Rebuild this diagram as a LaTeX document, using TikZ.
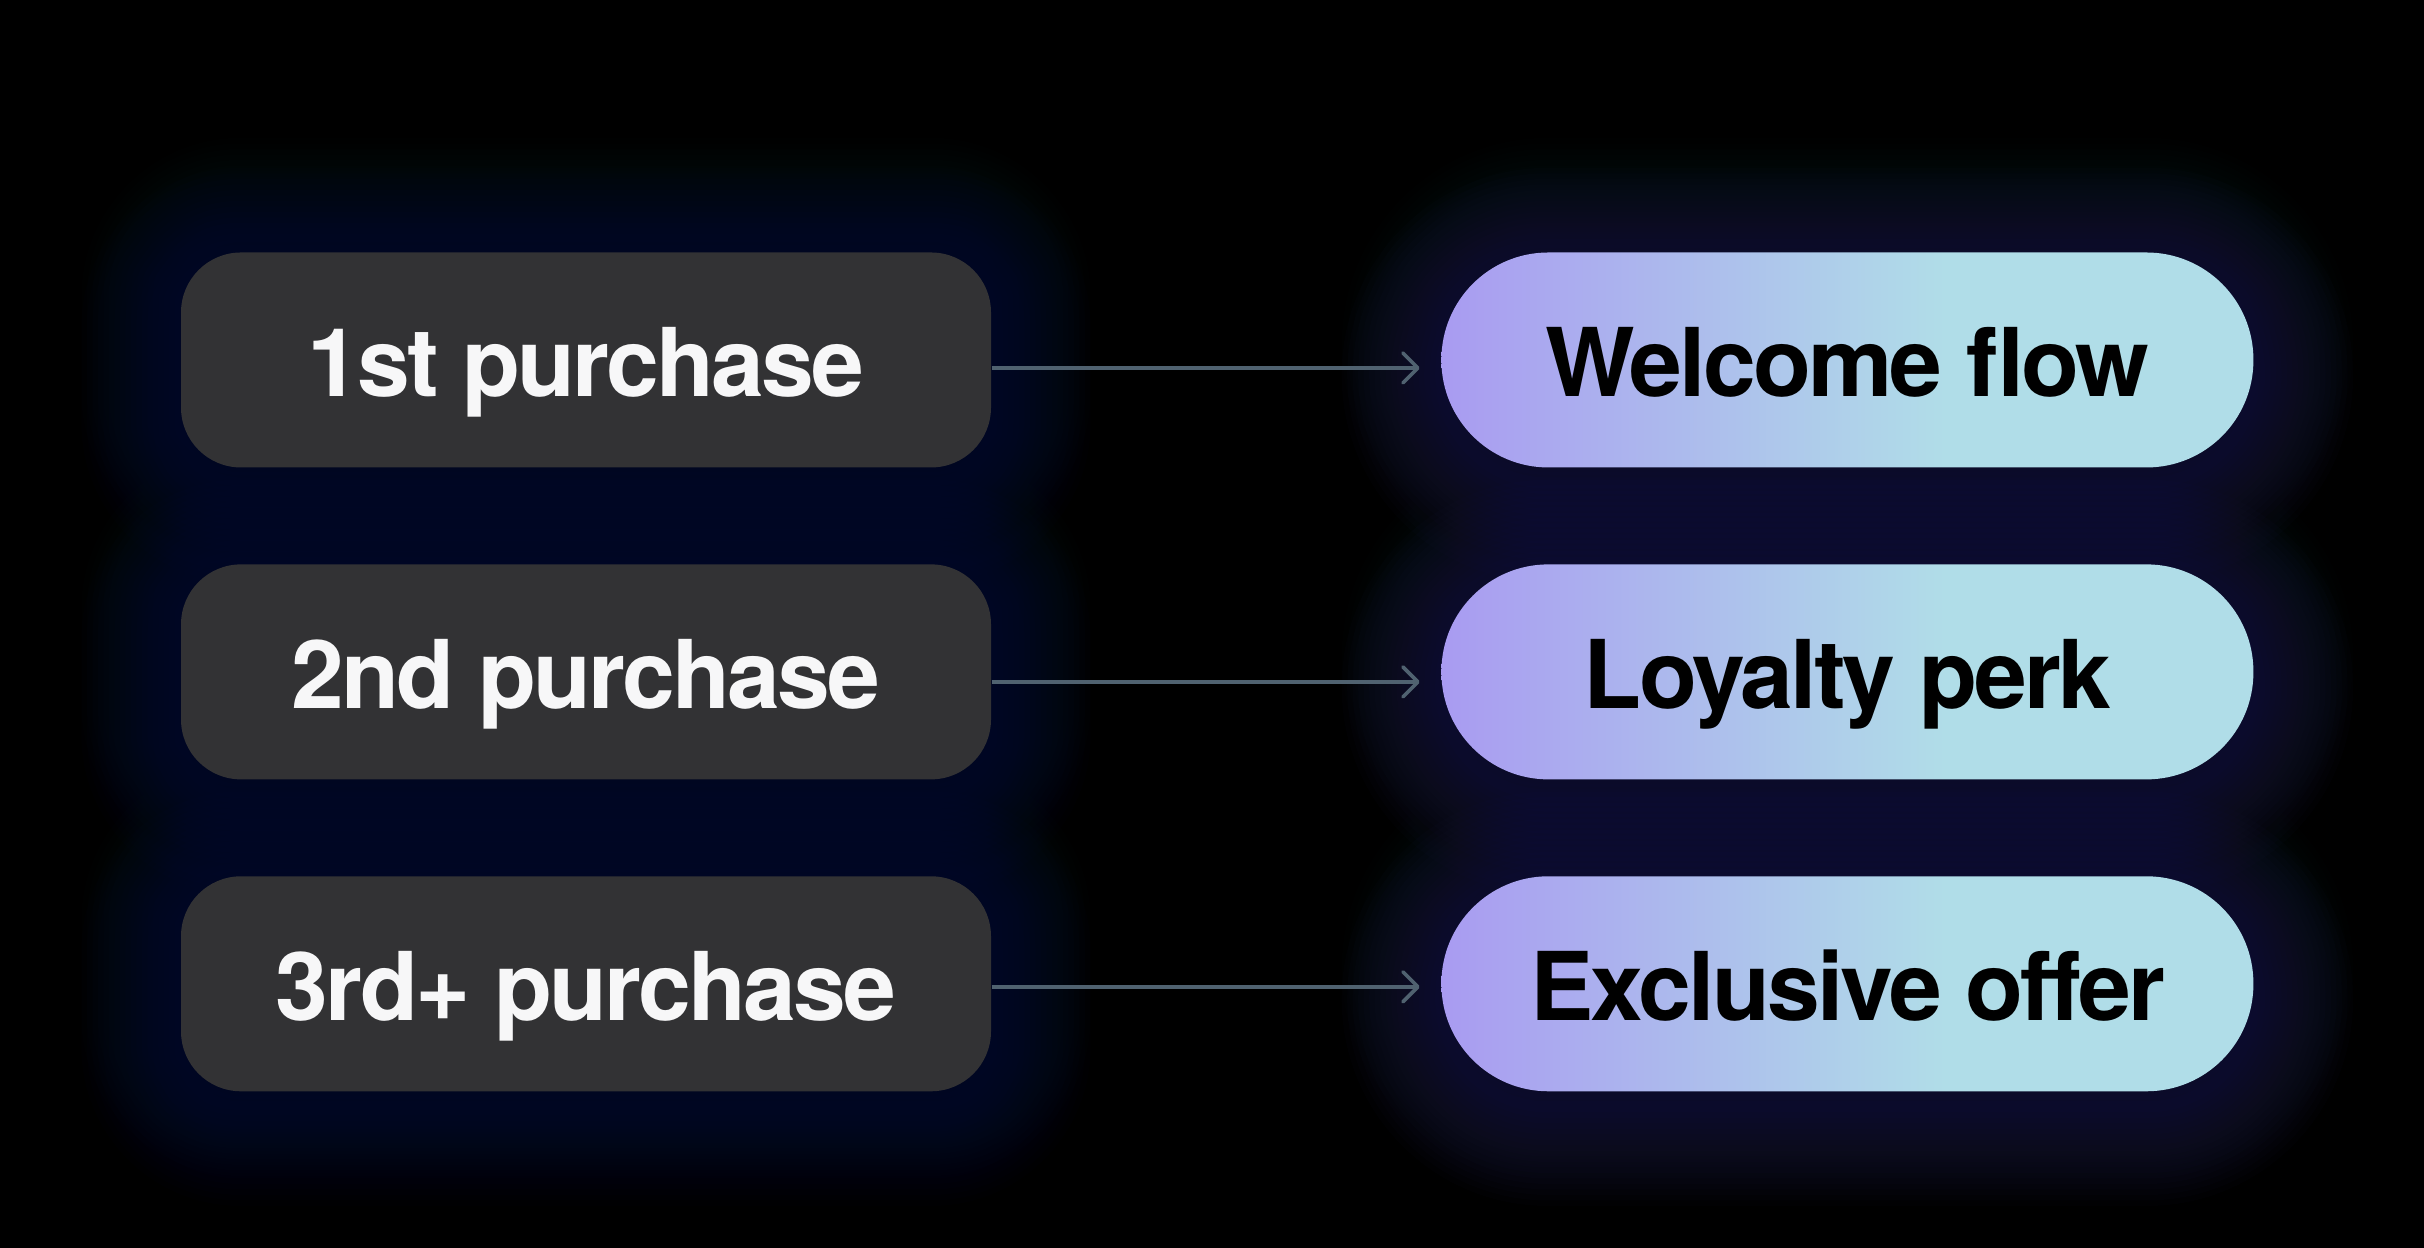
\documentclass[tikz,border=0pt]{standalone}
\usepackage{fontspec}
\setmainfont{TeX Gyre Heros}
\usepackage{tikz}
\usetikzlibrary{arrows.meta,positioning,backgrounds}
\definecolor{ink}{HTML}{000000}
\definecolor{slab}{HTML}{323234}
\definecolor{chalk}{HTML}{F7F7F8}
\definecolor{steel}{HTML}{506270}
\definecolor{lilac}{HTML}{A99BF1}
\definecolor{frost}{HTML}{B0DDE8}
\definecolor{haze}{HTML}{2A2A72}
\definecolor{mist}{HTML}{0F3036}
\pgfdeclarehorizontalshading{pillfade}{100bp}{color(0bp)=(lilac); color(25bp)=(lilac); color(56bp)=(frost); color(100bp)=(frost)}
\begin{document}
\begin{tikzpicture}[node distance=0.955cm and 4.49cm,every node/.style={font=\fontsize{27}{32}\bfseries\addfontfeature{LetterSpace=-3},align=center,text height=0.74cm,text depth=0cm},stage/.style={fill=slab,text=chalk,rounded corners=0.6cm,minimum width=8.1cm,minimum height=2.15cm},pill/.style={shading=pillfade,text=ink,rounded corners=1.07cm,minimum width=8.12cm,minimum height=2.15cm},link/.style={-{Straight Barb[length=1.5mm,width=3mm,round]},line width=0.036cm,steel,shorten >=0.21cm}]
\node[stage] (first) at (5.86,8.88) {1st purchase};
\node[stage,below=of first] (second) {2nd purchase};
\node[stage,below=of second] (third) {3rd+ purchase};
\node[pill,right=of first] (welcome) {Welcome flow};
\node[pill,right=of second] (loyalty) {Loyalty perk};
\node[pill,right=of third] (exclusive) {Exclusive offer};
% dark page and soft glow behind the boxes
\begin{scope}[on background layer]
\fill[ink] (0,0) rectangle (24.24,12.48);
\foreach \b in {first,second,third}{
  \foreach \n in {1,...,18}{
    \draw[mist,opacity=0.024,line width=\n*0.11cm,rounded corners=0.6cm] ([yshift=0.15cm]\b.south west) rectangle ([yshift=0.15cm]\b.north east);
    \draw[haze,opacity=0.022,line width=\n*0.11cm,rounded corners=0.6cm] ([yshift=-0.15cm]\b.south west) rectangle ([yshift=-0.15cm]\b.north east);
  }
}
\foreach \b in {welcome,loyalty,exclusive}{
  \foreach \n in {1,...,18}{
    \draw[mist,opacity=0.024,line width=\n*0.11cm,rounded corners=1.07cm] ([yshift=0.15cm]\b.south west) rectangle ([yshift=0.15cm]\b.north east);
    \draw[haze,opacity=0.03,line width=\n*0.11cm,rounded corners=1.07cm] ([yshift=-0.15cm]\b.south west) rectangle ([yshift=-0.15cm]\b.north east);
  }
}
\end{scope}
\draw[link] ([yshift=-0.08cm]first.east)--([yshift=-0.08cm]welcome.west);
\draw[link] ([yshift=-0.1cm]second.east)--([yshift=-0.1cm]loyalty.west);
\draw[link] ([yshift=-0.03cm]third.east)--([yshift=-0.03cm]exclusive.west);
\end{tikzpicture}
\end{document}
